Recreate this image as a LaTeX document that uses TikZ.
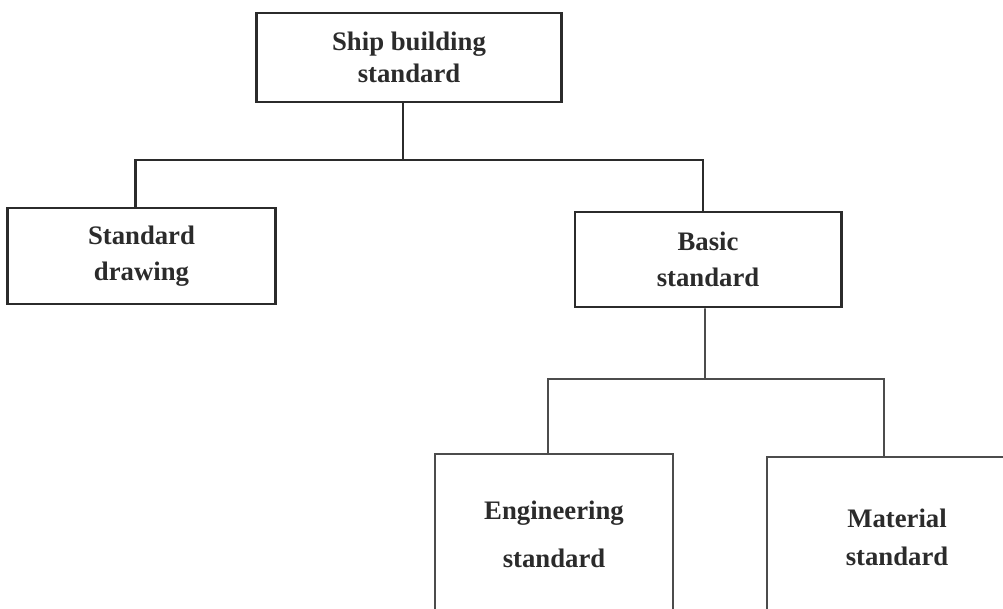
\documentclass[tikz,border=0pt]{standalone}
\usepackage{fontspec}
\setmainfont{Liberation Serif}
\usepackage{tikz}
\definecolor{DGray}{rgb}{0.17,0.17,0.17}
\definecolor{MGray}{rgb}{0.30,0.30,0.30}
\tikzset{
  mainbox/.style = {draw=DGray, line width=2.1pt, text=DGray, align=center,
    font=\fontsize{19}{23}\selectfont\bfseries, inner sep=0pt},
  subbox/.style = {draw=MGray, line width=1.1pt, text=DGray, align=center,
    font=\fontsize{19}{23}\selectfont\bfseries, inner sep=0pt},
  mainline/.style = {draw=DGray, line width=2.1pt},
  subline/.style = {draw=MGray, line width=1.1pt}
}

\begin{document}
\begin{tikzpicture}[x=0.025cm, y=-0.025cm]
\useasboundingbox (0,0) rectangle (1003,609);
\clip (0,0) rectangle (1003,609);

\node[mainbox, minimum width=7.6cm, minimum height=2.225cm] (ship) at (409,57.5) {Ship building\\standard};
\node[mainbox, minimum width=6.675cm, minimum height=2.4cm] (drawing) at (141.5,256) {Standard\\[3pt]drawing};
\node[mainbox, minimum width=6.65cm, minimum height=2.375cm] (basic) at (708,259.5) {Basic\\[3pt]standard};

\node[subbox, minimum width=5.95cm, minimum height=4cm] (engineering) at (554,534) {Engineering\\[11pt]standard};
\node[subbox, minimum width=6.5cm, minimum height=4cm] (material) at (897,537) {Material\\[4pt]standard};

\coordinate (bus) at (403,160);
\coordinate (subbus) at (705,379);

\draw[mainline] ([xshift=-0.15cm]ship.south) -- ([xshift=-0.15cm]ship.south |- bus);
\draw[mainline] ([xshift=-0.16cm]drawing.north) |- (bus) -| ([xshift=-0.125cm]basic.north);

\draw[subline] ([xshift=-0.075cm]basic.south) -- (subbus);
\draw[subline] ([xshift=-0.15cm]engineering.north) |- (subbus) -| ([xshift=-0.325cm]material.north);

\end{tikzpicture}
\end{document}
